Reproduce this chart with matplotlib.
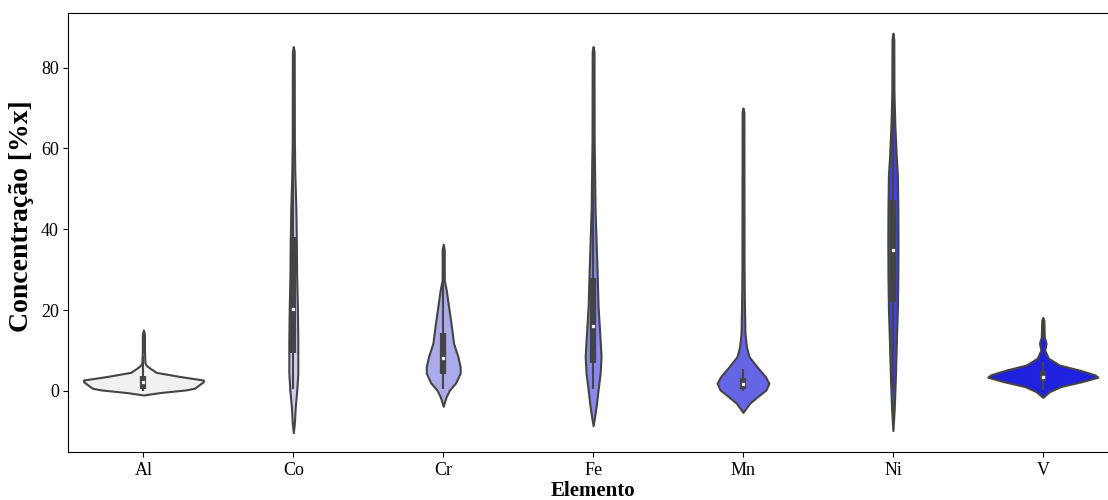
import numpy as np
import matplotlib
matplotlib.use("Agg")
import matplotlib.pyplot as plt
import seaborn as sns

plt.rcParams['font.family'] = ['Liberation Serif', 'DejaVu Serif']

elementos = ['Al', 'Co', 'Cr', 'Fe', 'Mn', 'Ni', 'V']

# perfil de densidade de cada violino: (concentração, meia-largura)
perfil_al = [(15.1, 0.0), (14.0, 0.007), (10.0, 0.007), (7.0, 0.01), (6.3, 0.02),
             (5.6, 0.045), (4.6, 0.085), (3.6, 0.24), (2.7, 0.40), (2.3, 0.40),
             (1.2, 0.36), (0.66, 0.34), (0.25, 0.28), (-0.4, 0.11), (-1.0, 0.0)]
perfil_co = [(85.2, 0.0), (84.0, 0.006), (62.0, 0.007), (54.0, 0.01), (45.0, 0.017),
             (37.0, 0.02), (29.0, 0.022), (21.0, 0.027), (12.6, 0.03), (4.4, 0.03),
             (0.2, 0.023), (-3.9, 0.013), (-8.0, 0.007), (-10.3, 0.0)]
perfil_cr = [(36.3, 0.0), (35.0, 0.007), (27.4, 0.007), (25.0, 0.02), (21.6, 0.033),
             (16.7, 0.052), (11.8, 0.069), (8.5, 0.098), (6.0, 0.113), (4.4, 0.113),
             (2.0, 0.083), (0.25, 0.042), (-1.4, 0.02), (-2.9, 0.007), (-3.8, 0.0)]
perfil_fe = [(85.2, 0.0), (84.0, 0.006), (62.0, 0.007), (54.0, 0.01), (45.0, 0.013),
             (37.0, 0.02), (29.0, 0.027), (21.0, 0.033), (12.6, 0.047), (8.4, 0.053),
             (4.4, 0.047), (0.2, 0.033), (-3.9, 0.02), (-6.4, 0.01), (-8.6, 0.0)]
perfil_mn = [(70.0, 0.0), (69.0, 0.006), (30.7, 0.007), (22.5, 0.009), (14.3, 0.013),
             (10.9, 0.023), (8.5, 0.04), (6.0, 0.093), (3.5, 0.15), (1.9, 0.173),
             (0.25, 0.153), (-1.4, 0.097), (-3.0, 0.045), (-5.3, 0.0)]
perfil_ni = [(88.5, 0.0), (87.0, 0.006), (74.0, 0.007), (65.7, 0.013), (57.5, 0.023),
             (53.3, 0.03), (45.0, 0.033), (36.8, 0.034), (28.6, 0.033), (20.4, 0.03),
             (12.1, 0.023), (3.9, 0.017), (-4.3, 0.009), (-9.8, 0.0)]
perfil_v = [(18.2, 0.0), (17.5, 0.007), (13.4, 0.01), (11.8, 0.022), (10.1, 0.013),
            (8.1, 0.037), (6.4, 0.111), (5.2, 0.24), (4.0, 0.347), (3.4, 0.367),
            (2.3, 0.26), (1.1, 0.12), (-0.2, 0.043), (-1.6, 0.0)]
perfis = [perfil_al, perfil_co, perfil_cr, perfil_fe, perfil_mn, perfil_ni, perfil_v]

# quartis, mediana e bigodes
q1 = [0.4, 9.3, 4.2, 7.0, 0.6, 22.0, 2.5]
mediana = [2.1, 20.3, 8.1, 16.0, 1.7, 34.8, 3.5]
q3 = [3.7, 38.0, 14.4, 28.0, 3.3, 47.2, 4.9]
bigode_inf = [0.0, 0.5, 0.5, 0.5, 0.0, 0.5, 0.2]
bigode_sup = [8.6, 82.0, 29.0, 82.0, 5.4, 85.0, 7.2]

cores = [sns.desaturate(c, 0.75) for c in sns.light_palette("blue", len(elementos))]
cinza = "#444444"
lw = 1.5

fig = plt.figure(figsize=(11.08, 5), dpi=100)
ax = fig.add_axes([0.0618, 0.096, 0.947, 0.878])

for i, perfil in enumerate(perfis):
    y = np.array([p[0] for p in perfil])
    w = np.array([p[1] for p in perfil])
    ax.fill_betweenx(y, i - w, i + w, facecolor=cores[i], edgecolor=cinza, lw=lw, zorder=1)
    ax.plot([i, i], [bigode_inf[i], bigode_sup[i]], color=cinza, lw=lw, solid_capstyle='butt', zorder=2)
    ax.plot([i, i], [q1[i], q3[i]], color=cinza, lw=lw * 3, solid_capstyle='butt', zorder=2)
    ax.scatter(i, mediana[i], s=(lw * 2) ** 2, color='white', edgecolor=cinza, lw=0.5, zorder=3)

ax.set_xlim(-0.5, len(elementos) - 0.5)
ax.set_ylim(-15.1, 93.5)
ax.set_xticks(range(len(elementos)))
ax.set_xticklabels(elementos)
ax.set_yticks([0, 20, 40, 60, 80])
ax.tick_params(labelsize=13)
ax.set_xlabel('Elemento', fontsize=15, fontweight='bold', labelpad=2)
ax.set_ylabel('Concentração [%x]', fontsize=20, fontweight='bold')
ax.yaxis.set_label_coords(-0.033, 0.537)

fig.savefig('out.png', dpi=100)
